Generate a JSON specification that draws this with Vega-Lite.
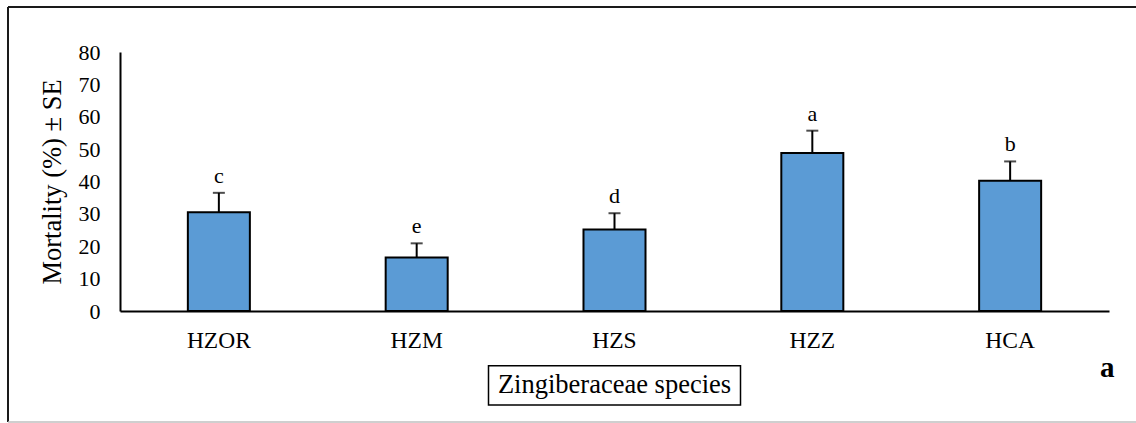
{
  "$schema": "https://vega.github.io/schema/vega-lite/v6.json",
  "autosize": {"type": "none"},
  "padding": {"left": 8, "top": 7, "right": 0, "bottom": 1},
  "width": 1128,
  "height": 415,
  "background": "#ffffff",
  "config": {
    "view": {"stroke": null, "fill": "#ffffff"},
    "font": "Liberation Serif",
    "text": {"font": "Liberation Serif", "color": "#000000"}
  },
  "resolve": {
    "scale": {"x": "independent", "y": "independent"},
    "axis": {"x": "independent", "y": "independent"}
  },
  "layer": [
    {
      "layer": [
        {
          "data": {
            "values": [
              {"species": "HZOR", "mortality": 30.5, "upper": 36.5, "group": "c"},
              {"species": "HZM", "mortality": 16.5, "upper": 20.9, "group": "e"},
              {"species": "HZS", "mortality": 25.2, "upper": 30.2, "group": "d"},
              {"species": "HZZ", "mortality": 48.8, "upper": 55.7, "group": "a"},
              {"species": "HCA", "mortality": 40.2, "upper": 46.2, "group": "b"}
            ]
          },
          "layer": [
            {
              "mark": {"type": "bar", "fill": "#5b9bd5", "stroke": "#000000", "strokeWidth": 2},
              "encoding": {
                "x": {
                  "field": "species",
                  "type": "nominal",
                  "sort": null,
                  "scale": {"range": [112, 1101], "paddingInner": 0.6865, "paddingOuter": 0.343},
                  "axis": {
                    "title": null,
                    "orient": "bottom",
                    "offset": -111,
                    "domainColor": "#000000",
                    "domainWidth": 2,
                    "ticks": false,
                    "tickSize": 0,
                    "labelFont": "Liberation Serif",
                    "labelFontSize": 23.5,
                    "labelColor": "#000000",
                    "labelAngle": 0,
                    "labelBaseline": "alphabetic",
                    "labelPadding": 36
                  }
                },
                "y": {
                  "field": "mortality",
                  "type": "quantitative",
                  "scale": {"domain": [0, 80], "range": [304, 45], "nice": false, "zero": true},
                  "axis": {
                    "title": "Mortality (%) ± SE",
                    "orient": "left",
                    "offset": -112,
                    "values": [0, 10, 20, 30, 40, 50, 60, 70, 80],
                    "grid": false,
                    "domainColor": "#000000",
                    "domainWidth": 2,
                    "ticks": false,
                    "tickSize": 0,
                    "labelFont": "Liberation Serif",
                    "labelFontSize": 22,
                    "labelColor": "#000000",
                    "labelPadding": 20,
                    "titleFont": "Liberation Serif",
                    "titleFontSize": 26.5,
                    "titleFontWeight": "normal",
                    "titleColor": "#000000",
                    "titleX": -54,
                    "titleBaseline": "bottom"
                  }
                }
              }
            },
            {
              "mark": {"type": "rule", "color": "#000000", "strokeWidth": 2},
              "encoding": {
                "x": {"field": "species", "type": "nominal", "sort": null},
                "y": {"field": "mortality", "type": "quantitative"},
                "y2": {"field": "upper"}
              }
            },
            {
              "mark": {"type": "tick", "color": "#000000", "size": 12, "thickness": 2},
              "encoding": {
                "x": {"field": "species", "type": "nominal", "sort": null},
                "y": {"field": "upper", "type": "quantitative"}
              }
            },
            {
              "mark": {"type": "text", "font": "Liberation Serif", "fontSize": 22, "baseline": "alphabetic", "dy": -10, "color": "#000000"},
              "encoding": {
                "x": {"field": "species", "type": "nominal", "sort": null},
                "y": {"field": "upper", "type": "quantitative"},
                "text": {"field": "group"}
              }
            }
          ]
        },
        {
          "data": {"values": [{}]},
          "layer": [
            {
              "mark": {"type": "rect", "filled": false, "stroke": "#000000", "strokeWidth": 1.5, "width": 252},
              "encoding": {
                "x": {"datum": "HZS", "type": "nominal"},
                "y": {"datum": -16.9, "type": "quantitative"},
                "y2": {"datum": -29.0}
              }
            },
            {
              "mark": {"type": "text", "font": "Liberation Serif", "fontWeight": "normal", "fontSize": 26.5, "baseline": "middle", "color": "#000000"},
              "encoding": {
                "x": {"datum": "HZS", "type": "nominal"},
                "y": {"datum": -23.0, "type": "quantitative"},
                "text": {"value": "Zingiberaceae species"}
              }
            },
            {
              "mark": {"type": "text", "font": "Liberation Serif", "fontSize": 29, "fontWeight": "bold", "baseline": "alphabetic", "dx": 97, "color": "#000000"},
              "encoding": {
                "x": {"datum": "HCA", "type": "nominal"},
                "y": {"datum": -20.3, "type": "quantitative"},
                "text": {"value": "a"}
              }
            }
          ]
        }
      ]
    },
    {
      "data": {"values": [{}]},
      "layer": [
        {
          "mark": {"type": "rule", "color": "#1a1a1a", "strokeWidth": 2},
          "encoding": {
            "x": {"datum": 0, "type": "quantitative", "scale": {"domain": [0, 1], "range": [0, 1128]}, "axis": null},
            "x2": {"datum": 1},
            "y": {"datum": 1, "type": "quantitative", "scale": {"domain": [0, 1], "range": [415, 0]}, "axis": null}
          }
        },
        {
          "mark": {"type": "rule", "color": "#1a1a1a", "strokeWidth": 2},
          "encoding": {
            "x": {"datum": 0, "type": "quantitative"},
            "y": {"datum": 0, "type": "quantitative"},
            "y2": {"datum": 1}
          }
        },
        {
          "mark": {"type": "rule", "color": "#bfbfbf", "strokeWidth": 1.5},
          "encoding": {
            "x": {"datum": 0, "type": "quantitative"},
            "x2": {"datum": 1},
            "y": {"datum": 0, "type": "quantitative"}
          }
        }
      ]
    }
  ]
}
